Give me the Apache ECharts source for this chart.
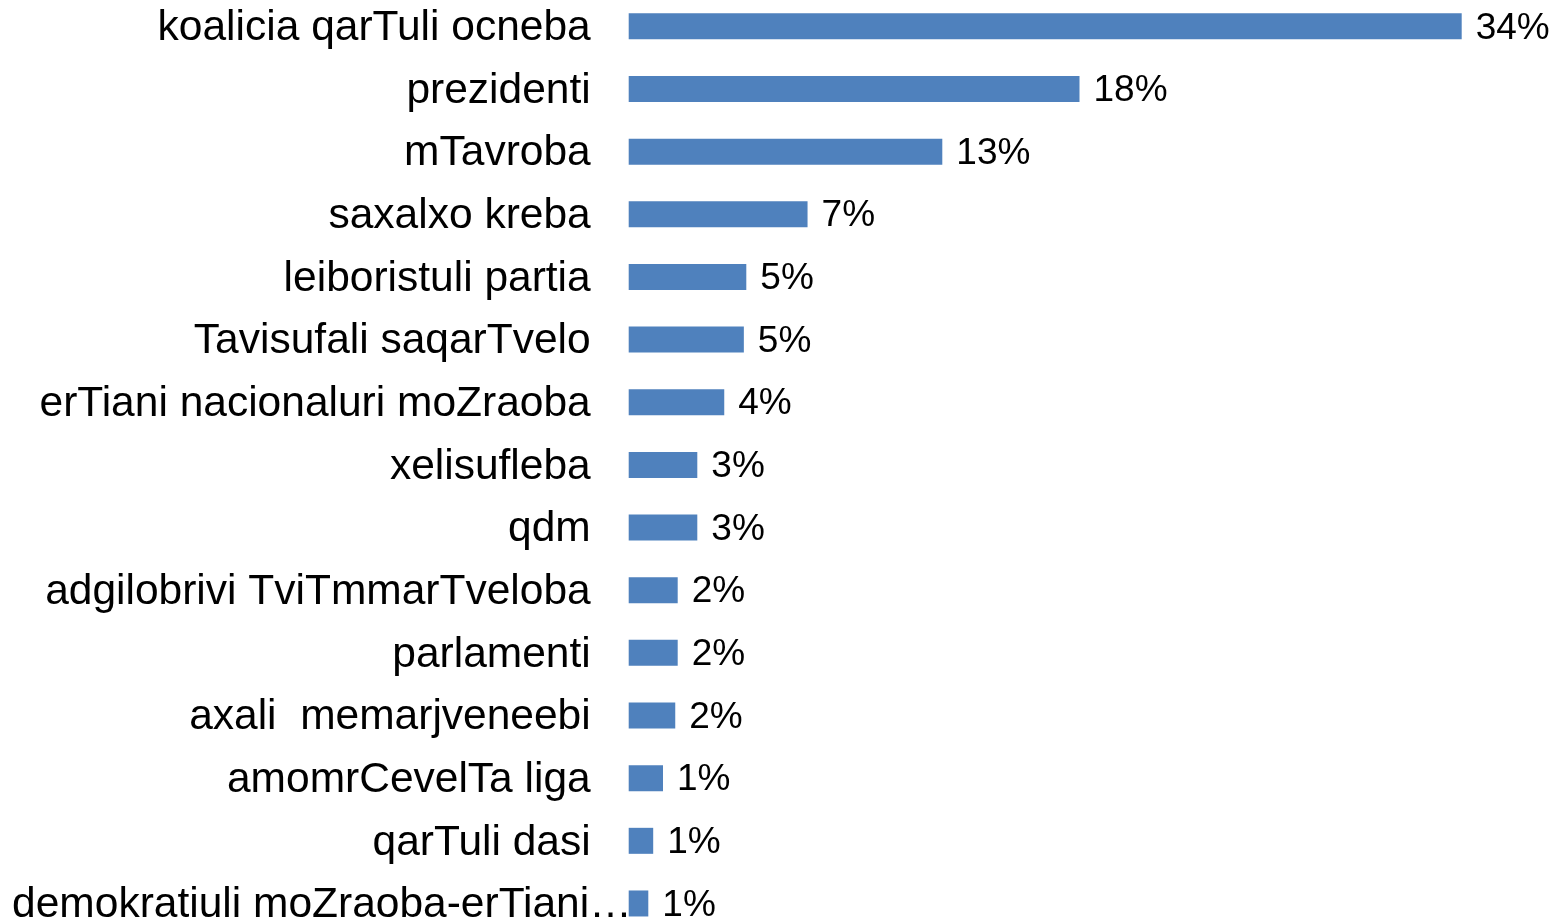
<!DOCTYPE html>
<html>
<head>
<meta charset="utf-8">
<script src="https://cdn.jsdelivr.net/npm/echarts@6/dist/echarts.min.js"></script>
<style>
  html, body { margin: 0; padding: 0; background: #fff; overflow: hidden; }
  #chart { position: relative; top: -5.3px; width: 1566px; height: 940px; }
</style>
</head>
<body>
<div id="chart"></div>
<script>
  // parties / institutions, top to bottom
  const categories = [
    'koalicia qarTuli ocneba',
    'prezidenti',
    'mTavroba',
    'saxalxo kreba',
    'leiboristuli partia',
    'Tavisufali saqarTvelo',
    'erTiani nacionaluri moZraoba',
    'xelisufleba',
    'qdm',
    'adgilobrivi TviTmmarTveloba',
    'parlamenti',
    'axali  memarjveneebi',
    'amomrCevelTa liga',
    'qarTuli dasi',
    'demokratiuli moZraoba-erTiani saqarTvelo'
  ];
  // share in percent (labels show rounded values)
  const shares = [34.0, 18.4, 12.8, 7.3, 4.8, 4.7, 3.9, 2.8, 2.8, 2.0, 2.0, 1.9, 1.4, 1.0, 0.8];

  const barColor = '#4F81BD';
  const font = "'Liberation Sans', Arial, sans-serif";
  const lastIdx = categories.length - 1;

  const chart = echarts.init(document.getElementById('chart'));
  chart.setOption({
    animation: false,
    grid: { left: 628.7, top: 0, width: 882, height: 939.8, containLabel: false },
    xAxis: {
      type: 'value', min: 0, max: 36, show: false
    },
    yAxis: {
      type: 'category', inverse: true, data: categories,
      axisLine: { show: false }, axisTick: { show: false }, splitLine: { show: false },
      axisLabel: {
        margin: -3,
        width: 628,
        overflow: 'truncate',
        ellipsis: '…',
        color: '#000',
        fontFamily: font,
        fontSize: 42.5,
        formatter: (v, i) => i === lastIdx ? '{t|' + v + '}' : '{n|' + v + '}',
        rich: {
          n: { padding: [4, 41, 0, 0], color: '#000', fontFamily: font, fontSize: 42.5 },
          t: { padding: [4, 0, 0, 0], color: '#000', fontFamily: font, fontSize: 42.5 }
        }
      }
    },
    series: [{
      type: 'bar',
      data: shares,
      barWidth: 26,
      itemStyle: { color: barColor },
      label: {
        show: true, position: 'right', distance: 14, offset: [0, 2],
        color: '#000', fontFamily: font, fontSize: 37,
        formatter: p => Math.round(p.value) + '%'
      }
    }]
  });
</script>
</body>
</html>
